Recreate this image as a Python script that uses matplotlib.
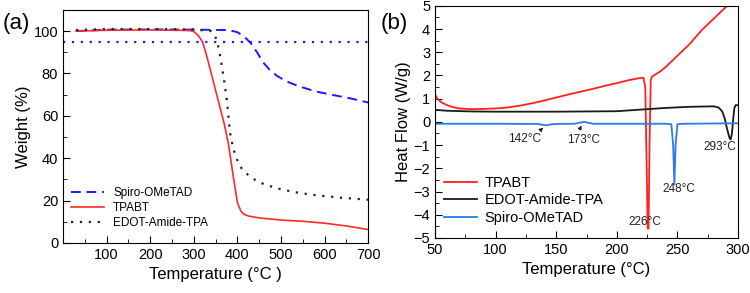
import matplotlib
matplotlib.use('Agg')
import matplotlib.pyplot as plt
from matplotlib.ticker import MultipleLocator

plt.rcParams.update({'font.family': ['Liberation Sans', 'DejaVu Sans']})

# (a) TGA
spiro_T = [30, 100, 200, 300, 380, 400, 415, 430, 445, 460, 475, 490, 510, 540, 580, 620, 660, 700]
spiro_W = [100, 100.7, 100.8, 100.7, 100.5, 99.5, 97.5, 94.5, 90, 85, 81.5, 79, 76.5, 74, 71.5, 69.8, 68.2, 66.3]
tpabt_T = [30, 100, 200, 290, 300, 310, 320, 330, 345, 360, 370, 380, 390, 400, 408, 415, 425, 450, 500, 550, 600, 650, 700]
tpabt_W = [100, 100.4, 100.6, 100.3, 99.8, 98, 95, 88, 76, 64, 56, 46, 32, 19, 15, 13.5, 12.7, 11.8, 10.8, 10.2, 9.3, 8, 6.3]
edot_T = [30, 100, 200, 300, 340, 350, 357, 364, 370, 376, 383, 391, 400, 410, 425, 440, 460, 490, 530, 580, 640, 700]
edot_W = [100.5, 101, 101, 100.8, 100, 97, 92, 84, 76, 67, 52, 44, 39, 35, 32, 29.8, 27.8, 25.8, 24, 22.5, 21.3, 20.4]
threshold = 95

# (b) DSC
dsc_tpabt_T = [50, 52, 55, 60, 65, 70, 80, 90, 100, 110, 120, 130, 140, 150, 160, 170, 180, 190, 200, 210,
               218, 222, 223.5, 224.5, 225.5, 226.2, 227, 228, 229, 232, 236, 240, 245, 250, 255, 260,
               265, 270, 275, 280, 285, 290, 295]
dsc_tpabt_H = [1.2, 1.0, 0.85, 0.72, 0.63, 0.58, 0.55, 0.56, 0.58, 0.62, 0.7, 0.8, 0.92, 1.05, 1.18, 1.3, 1.42,
               1.55, 1.67, 1.8, 1.88, 1.9, 1.5, -1.5, -4.6, -4.6, -1.0, 1.8, 1.95, 2.05, 2.18, 2.35, 2.6,
               2.85, 3.1, 3.35, 3.65, 3.95, 4.2, 4.45, 4.7, 4.95, 5.15]
dsc_edot_T = [50, 60, 80, 100, 150, 200, 220, 240, 260, 280, 284, 287, 289, 291, 293, 294, 295, 296, 297, 298, 300]
dsc_edot_H = [0.52, 0.48, 0.45, 0.44, 0.44, 0.46, 0.53, 0.6, 0.65, 0.67, 0.62, 0.45, 0.15, -0.3, -0.7, -0.75,
              -0.5, 0.1, 0.6, 0.72, 0.72]
dsc_spiro_T = [50, 100, 135, 139, 142, 145, 150, 165, 170, 173, 176, 180, 200, 240, 245, 246.5, 247.5, 248.5,
               250, 255, 300]
dsc_spiro_H = [-0.08, -0.08, -0.09, -0.13, -0.15, -0.11, -0.09, -0.08, -0.03, 0.0, -0.03, -0.08, -0.08, -0.08,
               -0.1, -1.0, -2.7, -1.0, -0.1, -0.08, -0.06]

fig = plt.figure(figsize=(7.5, 2.93), dpi=100)

# ---- panel (a)
ax1 = fig.add_axes([0.084, 0.171, 0.407, 0.795])
ax1.plot(spiro_T, spiro_W, color='#1a1aff', ls=(0, (5, 3)), lw=1.4, label='Spiro-OMeTAD')
ax1.plot(tpabt_T, tpabt_W, color='#ff2a2a', lw=1.2, label='TPABT')
ax1.plot(edot_T, edot_W, color='#222222', ls=(0, (1, 3)), lw=1.6, label='EDOT-Amide-TPA')
ax1.axhline(threshold, color='#1a1aff', ls=(0, (1, 3)), lw=1.6)
ax1.set_xlim(0, 700)
ax1.set_ylim(0, 110)
ax1.xaxis.set_major_locator(MultipleLocator(100))
ax1.xaxis.set_minor_locator(MultipleLocator(50))
ax1.yaxis.set_major_locator(MultipleLocator(20))
ax1.yaxis.set_minor_locator(MultipleLocator(10))
ax1.set_xticks(range(100, 701, 100))
ax1.tick_params(which='both', direction='in', labelsize=10.5)
ax1.tick_params(which='major', length=5)
ax1.tick_params(which='minor', length=3)
ax1.set_xlabel('Temperature (°C )', fontsize=12)
ax1.set_ylabel('Weight (%)', fontsize=12, labelpad=2)
ax1.legend(loc='lower left', bbox_to_anchor=(0.01, 0.04), frameon=False, fontsize=8.5,
           handlelength=2.8, labelspacing=0.23, borderaxespad=0)
fig.text(0.003, 0.92, '(a)', fontsize=16, va='center')

# ---- panel (b)
ax2 = fig.add_axes([0.58, 0.188, 0.404, 0.792])
ax2.plot(dsc_tpabt_T, dsc_tpabt_H, color='#ff2020', lw=1.3, label='TPABT')
ax2.plot(dsc_edot_T, dsc_edot_H, color='#1a1a1a', lw=1.3, label='EDOT-Amide-TPA')
ax2.plot(dsc_spiro_T, dsc_spiro_H, color='#2a7be8', lw=1.3, label='Spiro-OMeTAD')
ax2.set_xlim(50, 300)
ax2.set_ylim(-5, 5)
ax2.xaxis.set_major_locator(MultipleLocator(50))
ax2.xaxis.set_minor_locator(MultipleLocator(25))
ax2.yaxis.set_major_locator(MultipleLocator(1))
ax2.yaxis.set_minor_locator(MultipleLocator(0.5))
ax2.tick_params(which='both', direction='in', labelsize=10.5)
ax2.tick_params(which='major', length=5)
ax2.tick_params(which='minor', length=3)
ax2.set_xlabel('Temperature (°C)', fontsize=12)
ax2.set_ylabel('Heat Flow (W/g)', fontsize=12, labelpad=2)
ax2.legend(loc='lower left', bbox_to_anchor=(0.01, 0.03), frameon=False, fontsize=10.5,
           handlelength=2.3, handletextpad=0.5, labelspacing=0.25, borderaxespad=0)

ann = dict(fontsize=8.5, color='#222222', ha='center', va='center')
ax2.text(124, -0.72, '142°C', **ann)
ax2.text(172.5, -0.78, '173°C', **ann)
ax2.text(285, -1.08, '293°C', **ann)
ax2.text(251, -2.88, '248°C', **ann)
ax2.text(223.5, -4.3, '226°C', **ann)
arrow = dict(arrowstyle='-|>', color='#222222', lw=0.6, mutation_scale=6)
ax2.annotate('', xy=(141, -0.17), xytext=(135, -0.45), arrowprops=arrow)
ax2.annotate('', xy=(172, -0.05), xytext=(168, -0.45), arrowprops=arrow)
fig.text(0.507, 0.92, '(b)', fontsize=16, va='center')

fig.savefig('out.png', dpi=100)
